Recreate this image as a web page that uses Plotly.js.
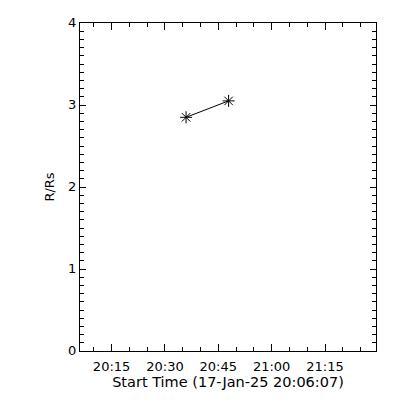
<!DOCTYPE html>
<html><head><meta charset="utf-8">
<script src="https://cdn.plot.ly/plotly-3.0.1.min.js"></script>
<style>html,body{margin:0;padding:0;background:#fff}#c{width:400px;height:400px}</style>
</head><body><div id="c"></div>
<script>
const times = ['2025-01-17 20:35:56', '2025-01-17 20:47:54'];
const heights = [2.85, 3.05];
const xRange = ['2025-01-17 20:06:07', '2025-01-17 21:29:20'];
const yRange = [0, 4];
const xTitle = 'Start Time (17-Jan-25 20:06:07)';
const yTitle = 'R/Rs';

const font = {family: 'DejaVu Sans', size: 13, color: '#000'};
const titleFont = {family: 'DejaVu Sans', size: 14.5, color: '#000'};
Plotly.newPlot('c', [{
  x: times, y: heights, type: 'scatter', mode: 'lines+markers',
  line: {color: '#000', width: 1},
  marker: {symbol: 'asterisk-open', size: 10, color: '#000', line: {color: '#000', width: 1}},
  showlegend: false
}], {
  width: 400, height: 400,
  margin: {l: 80, r: 24, t: 23, b: 49},
  paper_bgcolor: '#fff', plot_bgcolor: '#fff',
  font: font,
  xaxis: {
    type: 'date', range: xRange, tick0: '2025-01-17 20:15:00', dtick: 900000,
    tickformat: '%H:%M', ticks: 'inside', ticklen: 7, tickwidth: 1, tickcolor: '#000',
    minor: {dtick: 300000, ticks: 'inside', ticklen: 4, tickcolor: '#000', showgrid: false},
    showline: true, linecolor: '#000', linewidth: 1, mirror: 'allticks',
    showgrid: false, zeroline: false, tickfont: font, ticklabelstandoff: 3,
    title: {text: xTitle, font: titleFont, standoff: 1}
  },
  yaxis: {
    range: yRange, dtick: 1, ticks: 'inside', ticklen: 6, tickwidth: 1, tickcolor: '#000',
    minor: {dtick: 0.1, ticks: 'inside', ticklen: 4, tickcolor: '#000', showgrid: false},
    showline: true, linecolor: '#000', linewidth: 1, mirror: 'allticks',
    showgrid: false, zeroline: false, tickfont: font, ticklabelshift: -1,
    title: {text: yTitle, font: font, standoff: 10}
  }
}, {staticPlot: true, displayModeBar: false});
</script></body></html>
